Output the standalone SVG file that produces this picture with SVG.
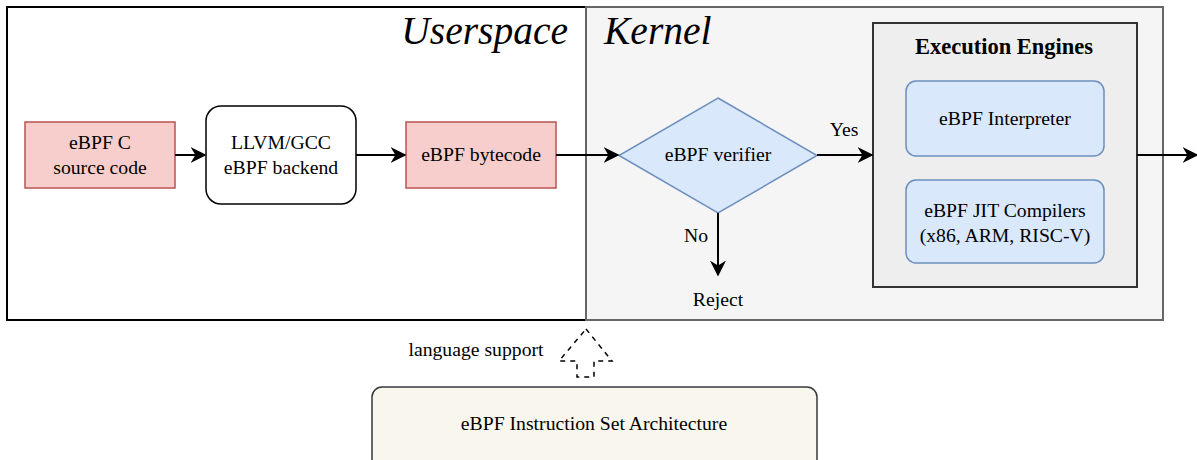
<svg xmlns="http://www.w3.org/2000/svg" width="1197" height="460" viewBox="0 0 1197 460">
<style>
text{font-family:"Liberation Serif","Times New Roman",serif;fill:#000}
.t{font-size:19.7px;text-anchor:middle}
.red{fill:#f8cecc;stroke:#b85450;stroke-width:1.5}
.blue{fill:#dae8fc;stroke:#6c8ebf;stroke-width:1.5}
.big{font-size:39.5px;font-style:italic}
.c{stroke:#000;stroke-width:2;fill:none}
</style>
<defs>
<marker id="ah2" viewBox="0 0 10 10" refX="9" refY="5" markerWidth="16" markerHeight="16" markerUnits="userSpaceOnUse" orient="auto">
<path d="M0,0 L10,5 L0,10 L3,5 Z" fill="#000"/>
</marker>
</defs>
<g id="userspace">
<rect x="7" y="7" width="579" height="313" fill="#fff" stroke="#000" stroke-width="2"/>
<text class="big" x="568" y="44" text-anchor="end">Userspace</text>
</g>
<g id="kernel">
<rect x="586" y="7" width="577" height="313" fill="#f5f5f5" stroke="#666" stroke-width="2"/>
<text class="big" x="604" y="44">Kernel</text>
</g>
<g id="exec">
<rect x="873" y="23" width="264" height="264" fill="#eeeeee" stroke="#333" stroke-width="2"/>
<text x="1004" y="54" text-anchor="middle" font-size="22.5" font-weight="bold">Execution Engines</text>
</g>
<g id="src">
<rect class="red" x="25" y="122" width="150" height="66"/>
<text class="t" x="100" y="149">eBPF C</text>
<text class="t" x="100" y="174">source code</text>
</g>
<g id="llvm">
<rect x="206" y="106" width="150" height="98" rx="15" fill="#fff" stroke="#000" stroke-width="1.5"/>
<text class="t" x="281" y="149">LLVM/GCC</text>
<text class="t" x="281" y="174">eBPF backend</text>
</g>
<g id="bytecode">
<rect class="red" x="406" y="122" width="150" height="66"/>
<text class="t" x="481" y="161">eBPF bytecode</text>
</g>
<g id="verifier">
<path class="blue" d="M718,98 L817,155.5 L718,213 L619,155.5 Z"/>
<text class="t" x="718" y="161">eBPF verifier</text>
</g>
<g id="interp">
<rect class="blue" x="906" y="81" width="198" height="75" rx="10"/>
<text class="t" x="1005" y="125">eBPF Interpreter</text>
</g>
<g id="jit">
<rect class="blue" x="906" y="180" width="198" height="83" rx="10"/>
<text class="t" x="1005" y="217">eBPF JIT Compilers</text>
<text class="t" x="1005" y="242">(x86, ARM, RISC-V)</text>
</g>
<g id="reject">
<text class="t" x="718" y="306">Reject</text>
</g>
<g id="isa">
<rect x="372" y="387" width="445" height="85" rx="10" fill="#f9f7ed" stroke="#36393d" stroke-width="1.5"/>
<text class="t" x="594" y="430">eBPF Instruction Set Architecture</text>
</g>
<g id="connectors">
<line class="c" x1="175" y1="155" x2="205" y2="155" marker-end="url(#ah2)"/>
<line class="c" x1="356" y1="155" x2="405" y2="155" marker-end="url(#ah2)"/>
<line class="c" x1="556" y1="155" x2="618" y2="155" marker-end="url(#ah2)"/>
<line class="c" x1="817" y1="155" x2="872" y2="155" marker-end="url(#ah2)"/>
<line class="c" x1="718" y1="213" x2="718" y2="275" marker-end="url(#ah2)"/>
<line class="c" x1="1137" y1="155" x2="1197" y2="155" marker-end="url(#ah2)"/>
<text class="t" x="844" y="136">Yes</text>
<text class="t" x="696" y="242">No</text>
<path d="M586,329 L612,361 L594,361 L594,377 L577,377 L577,361 L559,361 Z" fill="none" stroke="#000" stroke-width="1.5" stroke-dasharray="5,5"/>
<text class="t" x="476" y="356">language support</text>
</g>
</svg>
